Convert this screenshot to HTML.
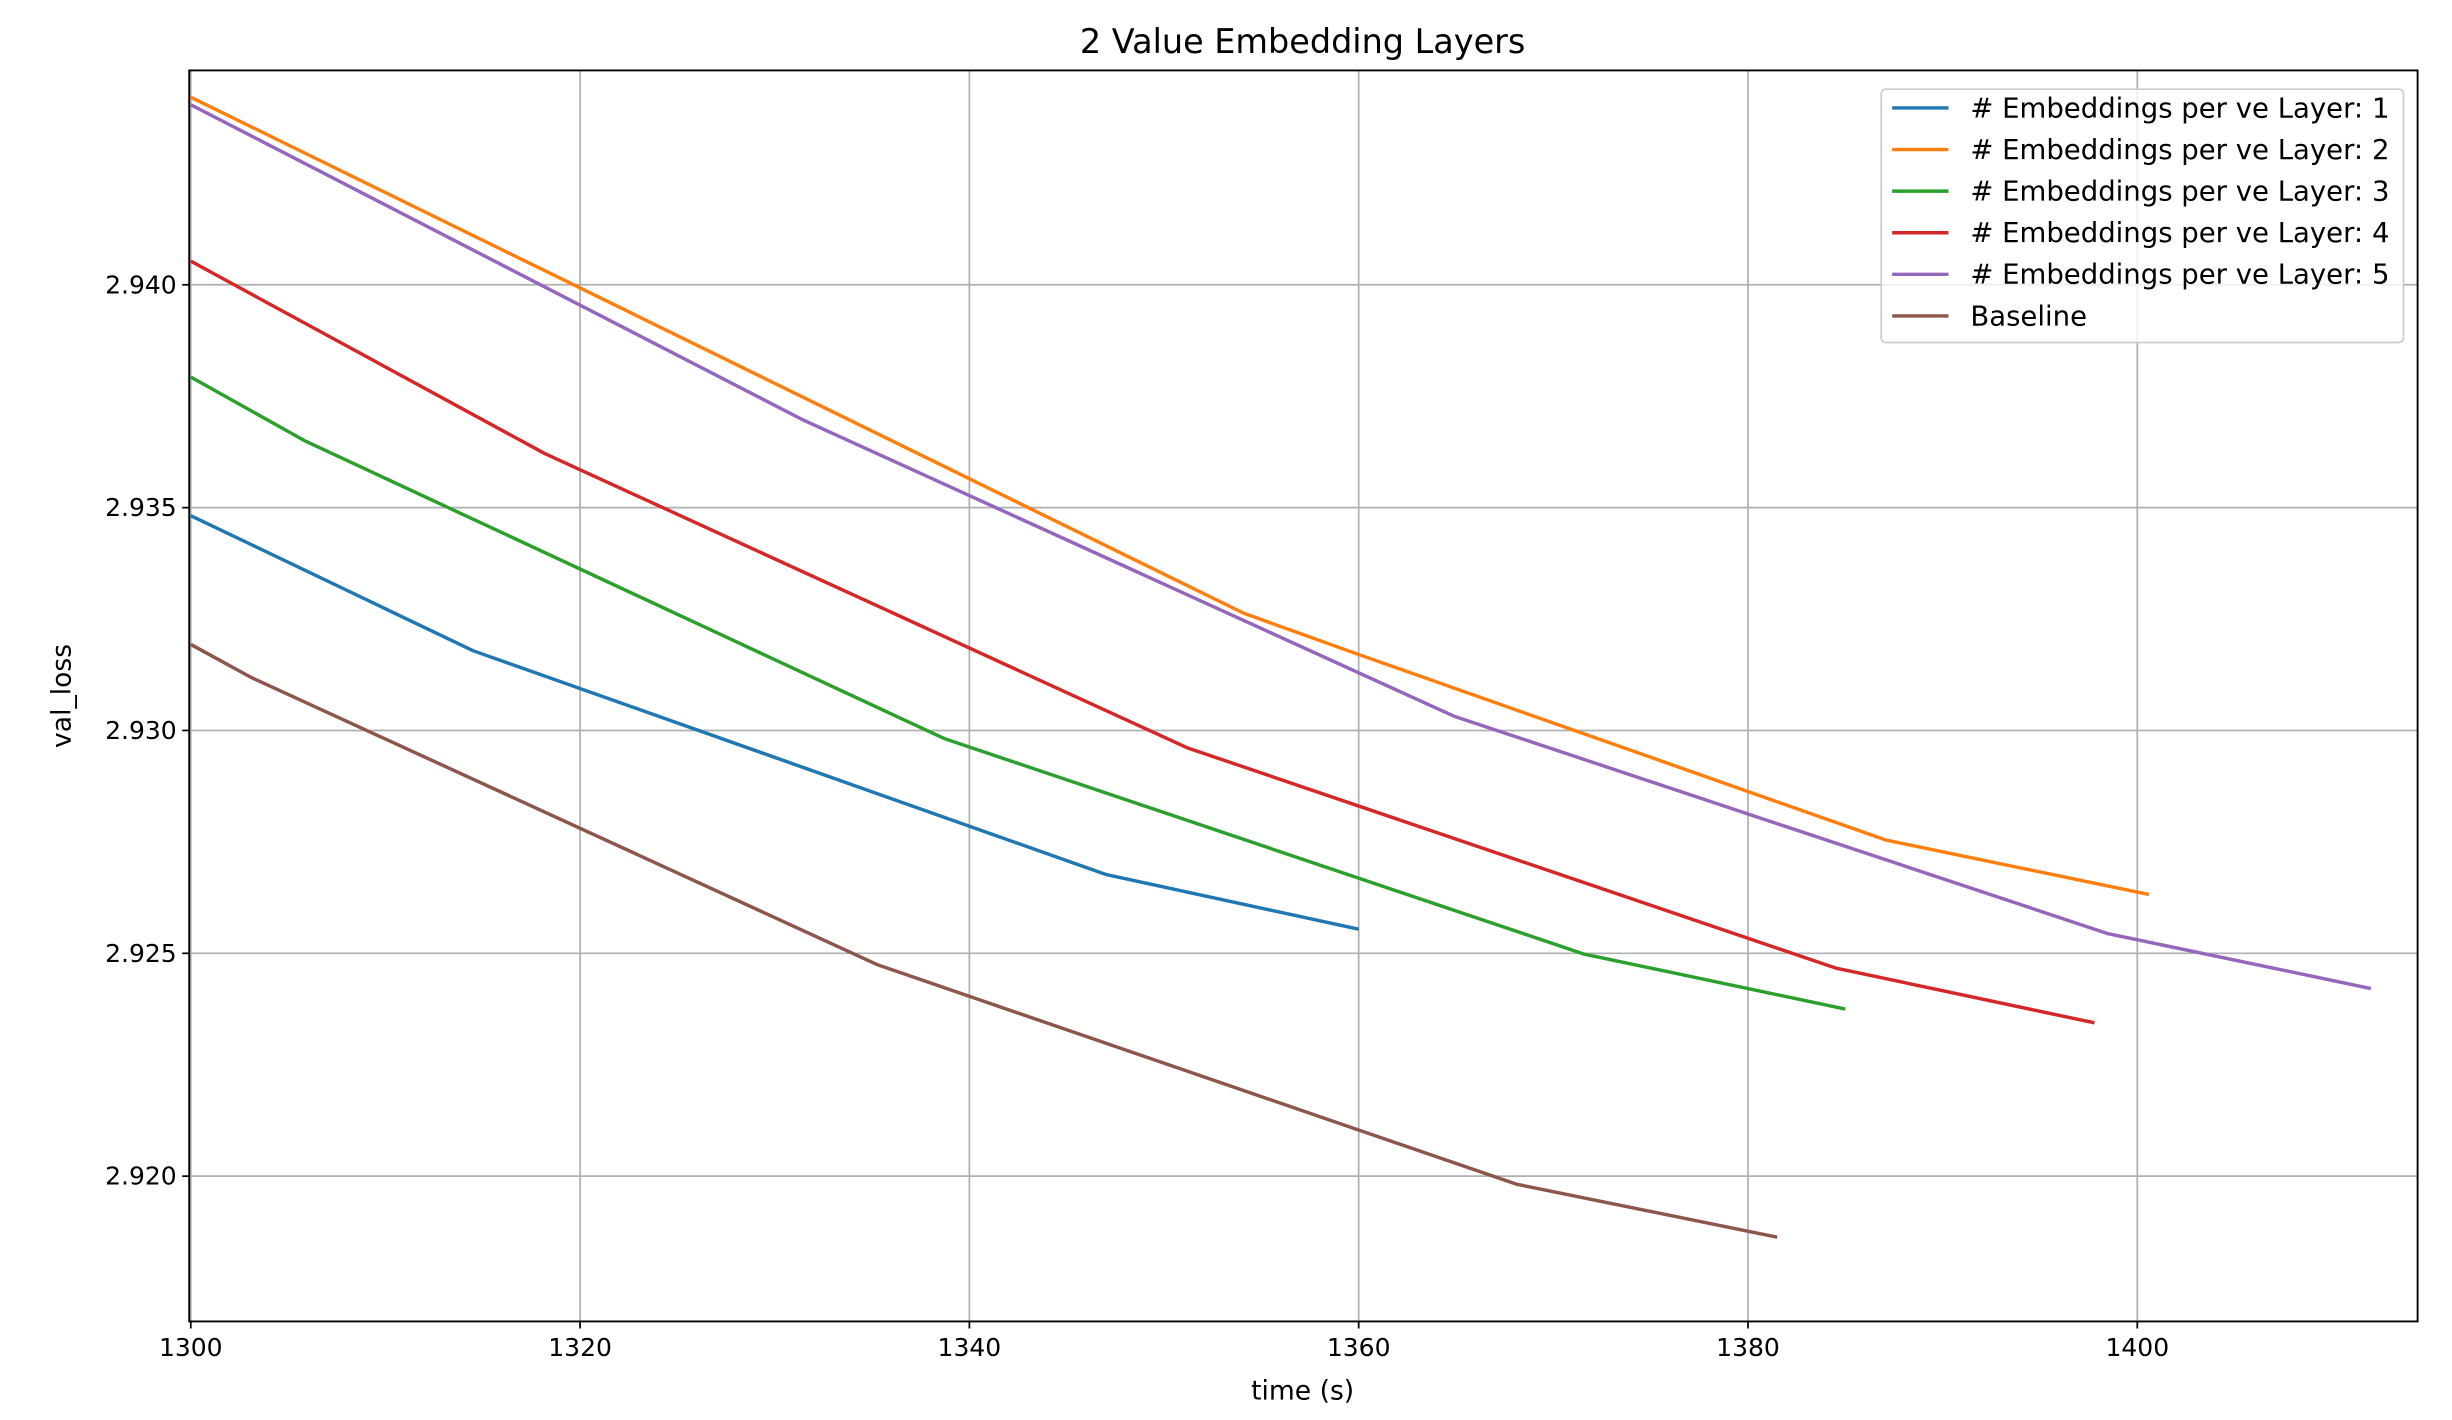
<!DOCTYPE html>
<html><head><meta charset="utf-8"><style>
html,body{margin:0;padding:0;background:#fff;}
svg{display:block;font-family:"DejaVu Sans","Liberation Sans",sans-serif;}
</style></head><body>
<svg id="chart" width="2452" height="1420" viewBox="0 0 1568 908" xmlns="http://www.w3.org/2000/svg">
<rect x="0" y="0" width="1568" height="908" fill="#fff"/>
<g id="grid"></g>
<g id="series"></g>
<rect x="121" y="45" width="1425" height="800" fill="none" stroke="#000" stroke-width="1.2"/>
<g id="xticks"></g>
<g id="yticks"></g>
<text x="833" y="34" font-size="21.4" text-anchor="middle">2 Value Embedding Layers</text>
<text x="833" y="895" font-size="17" text-anchor="middle">time (s)</text>
<text x="0" y="0" font-size="17" text-anchor="middle" transform="translate(45,445) rotate(-90)">val_loss</text>
<g id="legend"></g>
</svg>
<script>
const seriesNames = ["# Embeddings per ve Layer: 1","# Embeddings per ve Layer: 2","# Embeddings per ve Layer: 3","# Embeddings per ve Layer: 4","# Embeddings per ve Layer: 5","Baseline"];
const seriesColors = ["#1f77b4","#ff7f0e","#2ca02c","#d62728","#9467bd","#8c564b"];
const times1 = [1300, 1314.5, 1347.0, 1360.0];
const loss1 = [2.93482, 2.93179, 2.92677, 2.92554];
const times2 = [1300, 1354.1, 1359.9, 1387.1, 1400.6];
const loss2 = [2.94421, 2.93263, 2.93172, 2.92754, 2.92632];
const times3 = [1300, 1305.9, 1338.7, 1371.6, 1385.0];
const loss3 = [2.93793, 2.93649, 2.92982, 2.92498, 2.92375];
const times4 = [1300, 1318.2, 1351.2, 1384.5, 1397.8];
const loss4 = [2.94053, 2.93621, 2.92961, 2.92467, 2.92344];
const times5 = [1300, 1331.4, 1364.9, 1398.5, 1412.0];
const loss5 = [2.94404, 2.93698, 2.93032, 2.92544, 2.92421];
const timesB = [1300, 1303.1, 1335.3, 1368.1, 1381.5];
const lossB = [2.93193, 2.93119, 2.92474, 2.91982, 2.91863];
const xTicks = [1300, 1320, 1340, 1360, 1380, 1400];
const yTicks = [2.920, 2.925, 2.930, 2.935, 2.940];

const X0=121, X1=1546, Y0=45, Y1=845;
const xMin=1299.92, xMax=1414.4, yMin=2.91674, yMax=2.94481;
const xs = v => X0 + (v-xMin)/(xMax-xMin)*(X1-X0);
const ys = v => Y1 - (v-yMin)/(yMax-yMin)*(Y1-Y0);
const NS="http://www.w3.org/2000/svg";
function mk(tag, attrs, parent){const e=document.createElementNS(NS,tag);for(const k in attrs)e.setAttribute(k,attrs[k]);parent.appendChild(e);return e;}
const grid=document.getElementById('grid'), xt=document.getElementById('xticks'), yt=document.getElementById('yticks');
xTicks.forEach(t=>{
  const x=xs(t);
  const g=mk('line',{x1:x,x2:x,y1:Y0,y2:Y1,stroke:'#b0b0b0','stroke-width':1.1},grid);
  
  
  mk('line',{x1:x,x2:x,y1:Y1,y2:Y1+4.5,stroke:'#000','stroke-width':1.1},xt);
  const tx=mk('text',{x:x,y:Y1+22,'font-size':16,'text-anchor':'middle'},xt);
  tx.textContent=String(t);
  
  
});
yTicks.forEach(t=>{
  const y=ys(t);
  const g=mk('line',{x1:X0,x2:X1,y1:y,y2:y,stroke:'#b0b0b0','stroke-width':1.1},grid);
  
  
  mk('line',{x1:X0-4.5,x2:X0,y1:y,y2:y,stroke:'#000','stroke-width':1.1},yt);
  const tx=mk('text',{x:X0-8,y:y+5.5,'font-size':16,'text-anchor':'end'},yt);
  tx.textContent=t.toFixed(3);
  
  
});
const allT=[times1,times2,times3,times4,times5,timesB], allL=[loss1,loss2,loss3,loss4,loss5,lossB];
const sg=document.getElementById('series');
allT.forEach((ts,i)=>{
  const pts=ts.map((t,j)=>xs(t).toFixed(2)+','+ys(allL[i][j]).toFixed(2)).join(' ');
  const p=mk('polyline',{points:pts,fill:'none',stroke:seriesColors[i],'stroke-width':2.2,'stroke-linejoin':'round'},sg);
  
  
});
const lg=document.getElementById('legend');
const box=mk('rect',{x:1203,y:57,width:334,height:162,rx:3,fill:'#fff','fill-opacity':0.8,stroke:'#ccc','stroke-width':1.1},lg);


seriesNames.forEach((n,i)=>{
  const y=69+i*26.6;
  mk('line',{x1:1210,x2:1246,y1:y,y2:y,stroke:seriesColors[i],'stroke-width':2.2},lg);
  const tx=mk('text',{x:1260,y:y+6,'font-size':17.6},lg);
  tx.textContent=n;
  
  
});
</script>
</body></html>
